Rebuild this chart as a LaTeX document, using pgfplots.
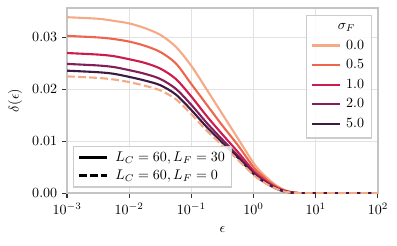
\documentclass[border=0pt]{standalone}
\usepackage{pgfplots}
\pgfplotsset{compat=1.18}
\usepackage{pgfplotstable}

\definecolor{c0}{HTML}{F5AA85}
\definecolor{c1}{HTML}{ED654C}
\definecolor{c2}{HTML}{CB1B4F}
\definecolor{c3}{HTML}{841E5A}
\definecolor{c4}{HTML}{3D1A42}
\definecolor{gridc}{HTML}{E2E2E2}
\definecolor{spinec}{HTML}{C4C4C4}
\definecolor{legc}{HTML}{CCCCCC}

\pgfplotstableread{
eps      s0      s05     s1      s2      s5      d
0.001    0.0339  0.0303  0.0270  0.0249  0.0236  0.0225
0.003162 0.0336  0.0300  0.0267  0.0246  0.0233  0.0222
0.005623 0.0332  0.0297  0.0264  0.0243  0.0230  0.0219
0.01     0.0327  0.0292  0.0258  0.0237  0.0224  0.0214
0.01778  0.0318  0.0284  0.0251  0.0230  0.0217  0.0207
0.03162  0.0305  0.0272  0.0240  0.0220  0.0208  0.0198
0.05623  0.0282  0.0250  0.0220  0.0201  0.0190  0.0181
0.1      0.0245  0.0210  0.0186  0.0170  0.0160  0.0152
0.1778   0.0199  0.0170  0.0148  0.0135  0.0127  0.0120
0.3162   0.0152  0.0130  0.0113  0.0103  0.0097  0.0092
0.5623   0.0105  0.0092  0.0079  0.0072  0.0068  0.0064
1.0      0.0058  0.0050  0.0043  0.0039  0.0037  0.0035
1.334    0.0040  0.0035  0.0030  0.0027  0.0025  0.0024
1.778    0.0026  0.0022  0.0019  0.0017  0.0016  0.0015
2.371    0.0014  0.0012  0.0010  0.0009  0.0008  0.0008
3.162    0.0006  0.0005  0.0004  0.0004  0.0003  0.0003
4.217    0.0002  0.00015 0.0001  0.0001  0.0001  0.0001
5.623    0.0     0.0     0.0     0.0     0.0     0.0
10.0     0.0     0.0     0.0     0.0     0.0     0.0
100.0    0.0     0.0     0.0     0.0     0.0     0.0
}\data

\begin{document}
\begin{tikzpicture}
\useasboundingbox (-47.8pt,-37.6pt) rectangle (235.2pt,137.7pt);
\begin{axis}[
  scale only axis, width=221.6pt, height=132.1pt,
  xmode=log, xmin=0.001, xmax=100, ymin=0, ymax=0.0357,
  xtick={0.001,0.01,0.1,1,10,100},
  ytick={0,0.01,0.02,0.03},
  xminorticks=false,
  scaled y ticks=false,
  yticklabel style={/pgf/number format/fixed,/pgf/number format/precision=2,/pgf/number format/fixed zerofill},
  grid=major,
  major grid style={gridc, line width=0.8pt},
  axis line style={spinec, line width=1pt},
  tick align=outside,
  xtick pos=bottom, ytick pos=left,
  major tick length=3.5pt,
  major tick style={black!80, line width=0.8pt},
  xlabel={$\epsilon$},
  ylabel={$\delta(\epsilon)$},
  xlabel style={at={(axis description cs:0.5,-0.198)}, anchor=center},
  ylabel style={at={(axis description cs:-0.1674,0.5)}, anchor=center},
  legend image code/.code={\draw[#1] (0pt,0pt) -- (20pt,0pt);},
  legend style={at={(0.980,0.964)}, anchor=north east, draw=legc, line width=0.8pt,
    fill=white, fill opacity=0.85, text opacity=1, row sep=1.8pt, column sep=1.5pt,
    inner xsep=3pt, inner ysep=4pt},
  legend cell align=left,
]
\addlegendimage{empty legend}
\addlegendentry{\hspace{-6pt}$\sigma_F$}
\addplot[c0, line width=1.5pt, smooth] table[x=eps,y=s0]{\data};
\addlegendentry{0.0}
\addplot[c1, line width=1.5pt, smooth] table[x=eps,y=s05]{\data};
\addlegendentry{0.5}
\addplot[c2, line width=1.5pt, smooth] table[x=eps,y=s1]{\data};
\addlegendentry{1.0}
\addplot[c3, line width=1.5pt, smooth] table[x=eps,y=s2]{\data};
\addlegendentry{2.0}
\addplot[c4, line width=1.5pt, smooth] table[x=eps,y=s5]{\data};
\addlegendentry{5.0}
\addplot[c0, line width=1.5pt, smooth, dash pattern=on 5.5pt off 2.4pt, forget plot] table[x=eps,y=d]{\data};
\end{axis}
\begin{axis}[
  scale only axis, width=221.6pt, height=132.1pt,
  xmode=log, xmin=0.001, xmax=100, ymin=0, ymax=0.0357,
  hide axis,
  legend image code/.code={\draw[#1] (0pt,0pt) -- (20pt,0pt);},
  legend style={at={(0.0203,0.0303)}, anchor=south west, draw=legc, line width=0.8pt,
    fill=white, fill opacity=0.85, text opacity=1, row sep=0.5pt, column sep=3pt,
    inner xsep=3pt, inner ysep=2pt},
  legend cell align=left,
]
\addlegendimage{black, line width=1.5pt}
\addlegendentry{$L_C=60, L_F=30$}
\addlegendimage{black, line width=1.5pt, dash pattern=on 5.5pt off 2.4pt}
\addlegendentry{$L_C=60, L_F=0$}
\end{axis}
\end{tikzpicture}
\end{document}
